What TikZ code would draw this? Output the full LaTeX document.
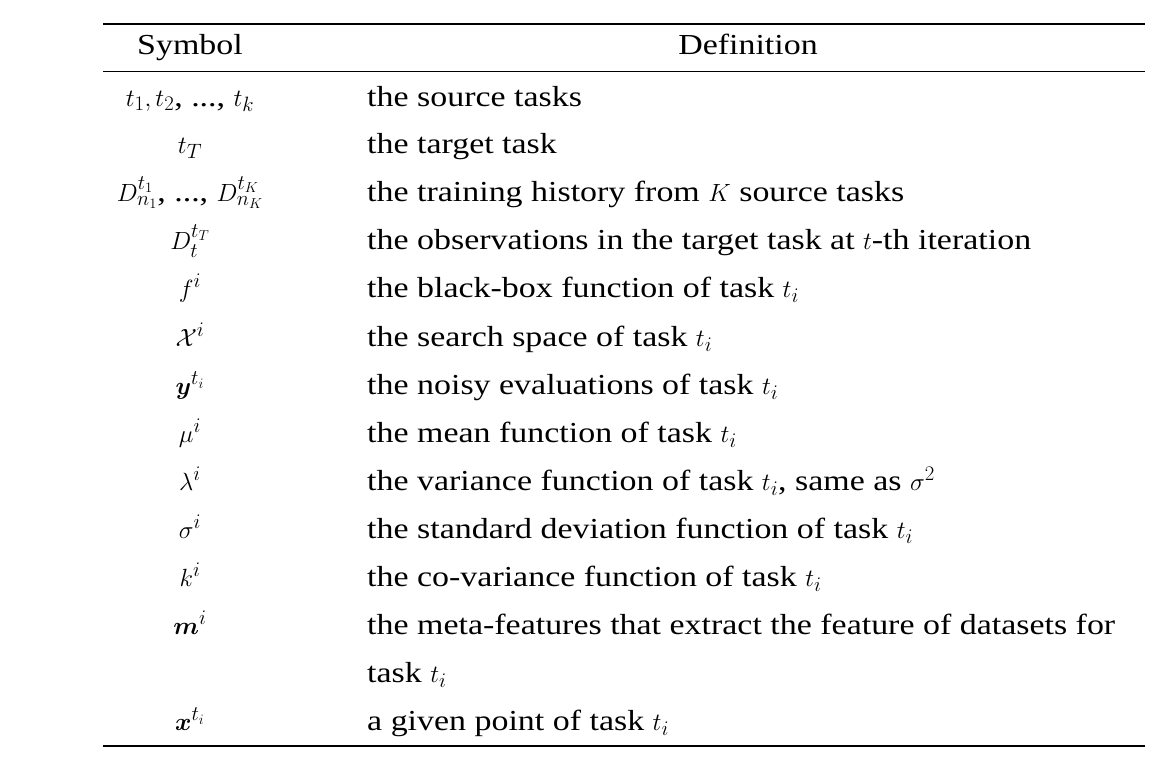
\documentclass[tikz,border=0pt]{standalone}
\usepackage{amsmath,bm}
\usepackage{fontspec}
\setmainfont[FakeStretch=1.17]{Liberation Serif}
\begin{document}
\begin{tikzpicture}[x=1pt,y=-1pt,
  sym/.style={anchor=base,font=\fontsize{29}{34}\selectfont},
  def/.style={anchor=base west,font=\fontsize{29}{34}\selectfont,inner xsep=0pt}]
\useasboundingbox (0,0) rectangle (1174,768);
\draw[line width=1.3pt] (103,24) -- (1145,24);
\draw[line width=0.8pt] (103,71) -- (1145,71);
\draw[line width=1.3pt] (103,746) -- (1145,746);
\node[sym] (h1) at (190,55) {Symbol};
\node[sym] (h2) at (748,55) {Definition};
\def\r#1#2#3{\node[sym] at (190,#1) {#2}; \node[def] at (367,#1) {#3};}
\r{106}{$t_1, t_2$, ..., $t_k$}{the source tasks}
\r{153}{$t_T$}{the target task}
\r{201}{$D^{t_1}_{n_1}$, ..., $D^{t_K}_{n_K}$}{the training history from $K$ source tasks}
\r{249}{$D^{t_T}_{t}$}{the observations in the target task at $t$-th iteration}
\r{297}{$f^i$}{the black-box function of task $t_i$}
\r{346}{$\mathcal{X}^i$}{the search space of task $t_i$}
\r{394}{$\bm{y}^{t_i}$}{the noisy evaluations of task $t_i$}
\r{442}{$\mu^i$}{the mean function of task $t_i$}
\r{490}{$\lambda^i$}{the variance function of task $t_i$, same as $\sigma^2$}
\r{538}{$\sigma^i$}{the standard deviation function of task $t_i$}
\r{586}{$k^i$}{the co-variance function of task $t_i$}
\r{634}{$\bm{m}^i$}{the meta-features that extract the feature of datasets for}
\node[def] (c) at (367,682) {task $t_i$};
\r{730}{$\bm{x}^{t_i}$}{a given point of task $t_i$}
\end{tikzpicture}
\end{document}
